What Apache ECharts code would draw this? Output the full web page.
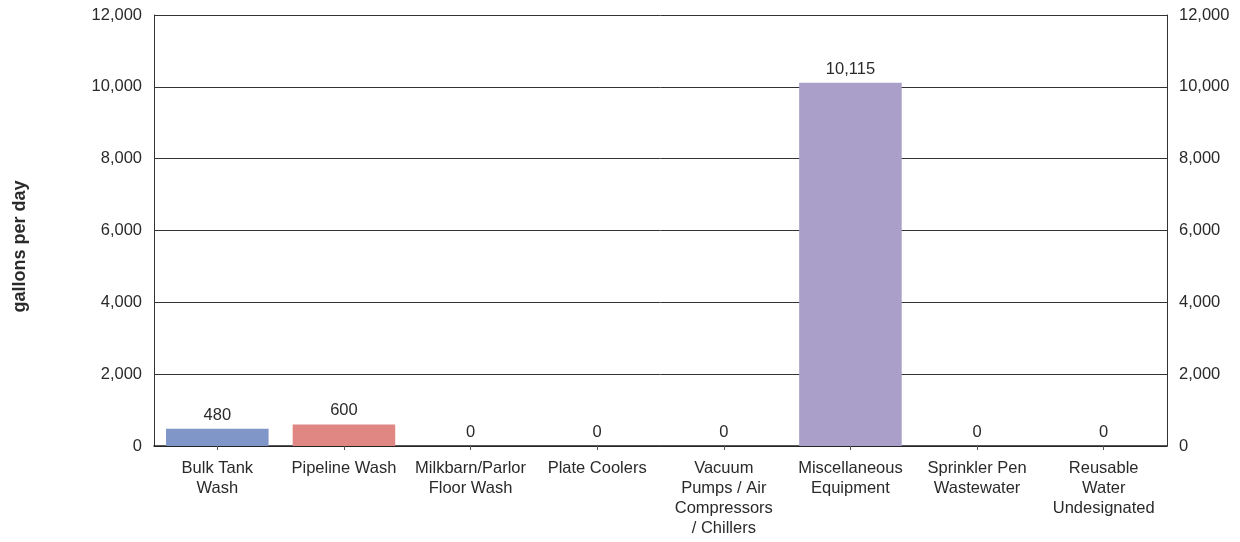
<!DOCTYPE html>
<html><head><meta charset="utf-8">
<script src="https://cdn.jsdelivr.net/npm/echarts@6/dist/echarts.min.js"></script>
<style>html,body{margin:0;padding:0;background:#fff}#c{width:1240px;height:542px}</style>
</head><body><div id="c"></div>
<script>
const categories = ["Bulk Tank\nWash","Pipeline Wash","Milkbarn/Parlor\nFloor Wash","Plate Coolers","Vacuum\nPumps / Air\nCompressors\n/ Chillers","Miscellaneous\nEquipment","Sprinkler Pen\nWastewater","Reusable\nWater\nUndesignated"];
const values = [480, 600, 0, 0, 0, 10115, 0, 0];
const barColors = ["#8096c8","#e08784","#aa9fc8","#aa9fc8","#aa9fc8","#aa9fc8","#aa9fc8","#aa9fc8"];
const yTitle = "gallons per day";

const chart = echarts.init(document.getElementById('c'), null, {renderer:'canvas'});
const txt = '#2a2a2a';
const FONT = 'Liberation Sans';
const fmt = v => v.toLocaleString('en-US');
const yAxisBase = {
  type:'value', min:0, max:12000, interval:2000,
  axisLine:{show:true, lineStyle:{color:'#333', width:1}},
  axisTick:{show:false},
  splitLine:{show:true, lineStyle:{color:'#333', width:1}},
  axisLabel:{color:txt, fontFamily:FONT, fontSize:16.5, margin:12, formatter:fmt}
};
chart.setOption({
  animation:false,
  grid:{left:154, right:73, top:15, bottom:96},
  xAxis:{
    type:'category', data:categories,
    axisLine:{lineStyle:{color:'#222', width:1.5}},
    axisTick:{show:true, alignWithLabel:true, length:4, lineStyle:{color:'#555'}},
    axisLabel:{color:txt, fontFamily:FONT, fontSize:16.5, lineHeight:20, margin:12, interval:0}
  },
  yAxis:[
    Object.assign({}, yAxisBase, {position:'left', name:yTitle, nameLocation:'middle', nameGap:125, nameRotate:90,
      nameTextStyle:{color:txt, fontFamily:FONT, fontSize:18, fontWeight:'bold', padding:[0,32,0,0]}}),
    Object.assign({}, yAxisBase, {position:'right', splitLine:{show:false}})
  ],
  series:[{
    type:'bar', yAxisIndex:0, barWidth:'81%',
    data: values.map((v,i)=>({value:v, itemStyle:{color:barColors[i]}})),
    label:{show:true, position:'top', distance:5, color:txt, fontFamily:FONT, fontSize:16.5, formatter:p=>fmt(p.value)}
  }]
});
</script></body></html>
